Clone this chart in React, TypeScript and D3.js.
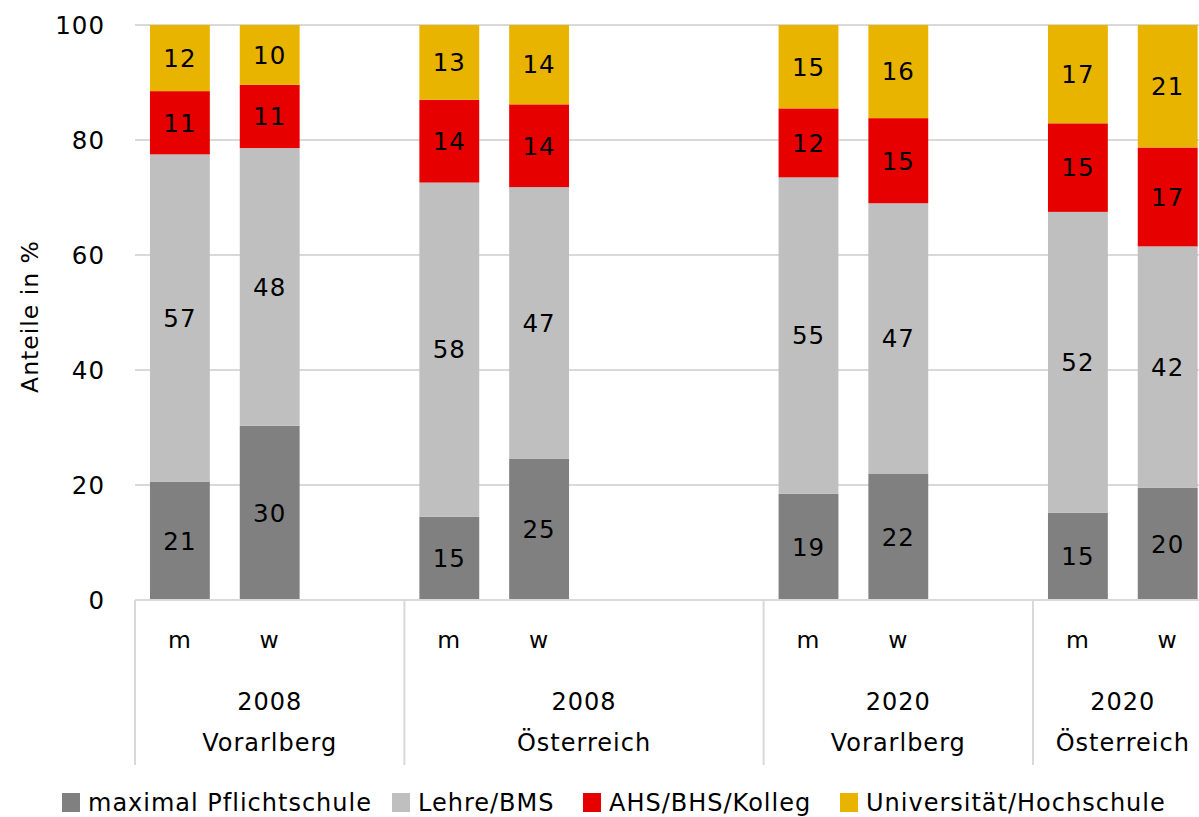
import React from "react";
import * as d3 from "d3";

const categories = ["m", "w", "", "m", "w", "", "", "m", "w", "", "m", "w"];
const pflicht = [20.6, 30.3, null, 14.5, 24.6, null, null, 18.5, 22.0, null, 15.2, 19.5];
const lehre = [56.9, 48.3, null, 58.1, 47.2, null, null, 55.0, 47.0, null, 52.3, 42.0];
const ahs = [11.0, 11.0, null, 14.4, 14.4, null, null, 12.0, 14.8, null, 15.4, 17.2];
const uni = [11.5, 10.4, null, 13.0, 13.8, null, null, 14.5, 16.2, null, 17.1, 21.3];
const groupYears = ["2008", "2008", "2020", "2020"];
const groupRegions = ["Vorarlberg", "Österreich", "Vorarlberg", "Österreich"];
const groupStart = [0, 3, 7, 10];
const seriesNames = ["maximal Pflichtschule", "Lehre/BMS", "AHS/BHS/Kolleg", "Universität/Hochschule"];
const seriesColors = ["#808080", "#bfbfbf", "#e60000", "#e9b400"];
const yTicks = [0, 20, 40, 60, 80, 100];

const W = 1199, H = 817;
const FONT = "'DejaVu Sans', Verdana, sans-serif";
const FS = 24;
const LS = 1;

export default function App() {
  const left = 135, top = 25, bottom = 600;
  const slotW = 89.8;
  const ids = categories.map((_, i) => String(i));
  const x = d3.scaleBand<string>().domain(ids).range([left, left + slotW * categories.length]).paddingInner(1 / 3).paddingOuter(1 / 6);
  const y = d3.scaleLinear().domain([0, 100]).range([bottom, top]);
  const series = [pflicht, lehre, ahs, uni];
  const rows = categories.map((_, i) => ({ i, a: pflicht[i], b: lehre[i], c: ahs[i], d: uni[i] }));
  const stack = d3.stack<any>().keys(["a", "b", "c", "d"]).value((d, k) => d[k] ?? 0);
  const stacked = stack(rows);
  const boundary = (slot: number) => (x(String(slot)) ?? 0) - x.step() * x.paddingInner() / 2;
  const rightEnd = left + slotW * categories.length;
  const legendX = [62, 392, 583, 840];

  return (
    <svg width={W} height={H} style={{ position: "absolute", left: 0, top: 0, background: "#fff" }} fontFamily={FONT} letterSpacing={LS}>
      {yTicks.map((t) => (
        <g key={t}>
          {t > 0 && <line x1={left} x2={W} y1={y(t)} y2={y(t)} stroke="#d9d9d9" strokeWidth={2} />}
          <text x={105} y={y(t)} dy="0.35em" textAnchor="end" fontSize={24.5} fill="#000">{t}</text>
        </g>
      ))}
      <text transform={`translate(30,${(top + bottom) / 2 + 4}) rotate(-90)`} textAnchor="middle" dy="0.35em" fontSize={23.5} fill="#000">Anteile in %</text>
      {stacked.map((s, si) => (
        <g key={si}>
          {s.map((d, i) => {
            if (series[si][i] == null) return null;
            const x0 = x(String(i)) ?? 0;
            const yTop = y(d[1]), yBot = y(d[0]);
            return (
              <g key={i}>
                <rect x={x0} y={yTop} width={x.bandwidth()} height={yBot - yTop} fill={seriesColors[si]} />
                <text x={x0 + x.bandwidth() / 2} y={(yTop + yBot) / 2} dy="0.36em" textAnchor="middle" fontSize={24.5} fill="#000">
                  {Math.round(series[si][i] as number)}
                </text>
              </g>
            );
          })}
        </g>
      ))}
      <line x1={left} x2={W} y1={bottom} y2={bottom} stroke="#d9d9d9" strokeWidth={2} />
      {groupStart.map((g, gi) => (
        <line key={gi} x1={boundary(g)} x2={boundary(g)} y1={bottom} y2={765} stroke="#d9d9d9" strokeWidth={2} />
      ))}
      {categories.map((c, i) => c ? (
        <text key={i} x={(x(String(i)) ?? 0) + x.bandwidth() / 2} y={640} dy="0.35em" textAnchor="middle" fontSize={23.5} fill="#000">{c}</text>
      ) : null)}
      {groupStart.map((g, gi) => {
        const x1 = boundary(g);
        const x2 = gi < groupStart.length - 1 ? boundary(groupStart[gi + 1]) : rightEnd;
        const cx = (x1 + x2) / 2;
        return (
          <g key={gi}>
            <text x={cx} y={702} dy="0.35em" textAnchor="middle" fontSize={FS} fill="#000">{groupYears[gi]}</text>
            <text x={cx} y={743} dy="0.35em" textAnchor="middle" fontSize={FS} fill="#000">{groupRegions[gi]}</text>
          </g>
        );
      })}
      {seriesNames.map((n, i) => (
        <g key={n}>
          <rect x={legendX[i]} y={793} width={18} height={19} fill={seriesColors[i]} />
          <text x={legendX[i] + 26} y={803} dy="0.35em" fontSize={FS} fill="#000">{n}</text>
        </g>
      ))}
    </svg>
  );
}
